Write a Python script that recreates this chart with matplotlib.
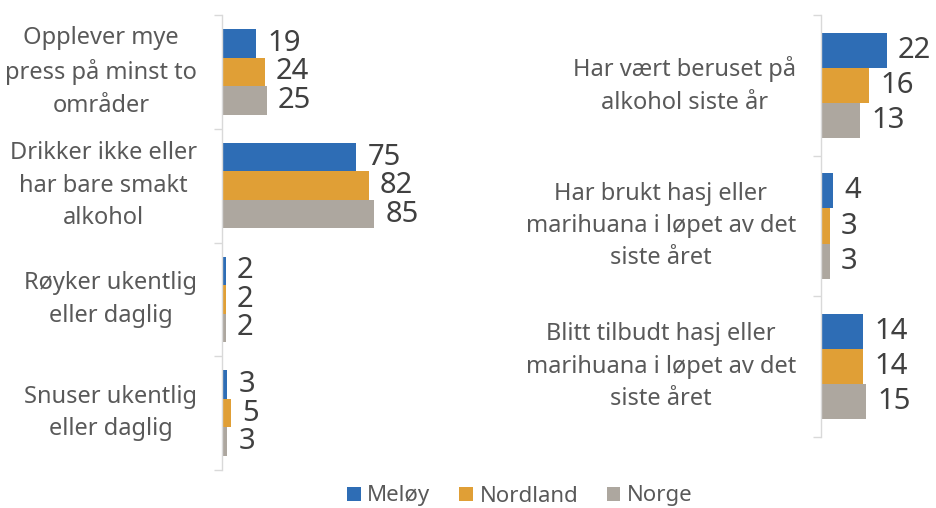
import matplotlib
matplotlib.use("Agg")
import matplotlib.pyplot as plt
from matplotlib.patches import Patch
import numpy as np

plt.rcParams["font.family"] = ["Noto Sans", "DejaVu Sans"]

series = ["Meløy", "Nordland", "Norge"]
colors = ["#2E6DB5", "#E09F36", "#ADA79F"]

left_cats = [
    "Opplever mye\npress på minst to\nområder",
    "Drikker ikke eller\nhar bare smakt\nalkohol",
    "Røyker ukentlig\neller daglig",
    "Snuser ukentlig\neller daglig",
]
left_meloy = [19, 75, 2, 3]
left_nordland = [24, 82, 2, 5]
left_norge = [25, 85, 2, 3]

right_cats = [
    "Har vært beruset på\nalkohol siste år",
    "Har brukt hasj eller\nmarihuana i løpet av det\nsiste året",
    "Blitt tilbudt hasj eller\nmarihuana i løpet av det\nsiste året",
]
right_meloy = [22, 4, 14]
right_nordland = [16, 3, 14]
right_norge = [13, 3, 15]

W, H = 936, 508
fig = plt.figure(figsize=(W / 100, H / 100), dpi=100)


def px_axes(x0, y_top, w, y_bot):
    return fig.add_axes([x0 / W, 1 - y_bot / H, w / W, (y_bot - y_top) / H])


def draw_panel(ax, cats, vals, xmax):
    n = len(cats)
    y = np.arange(n)
    bh = 0.25
    for k, (v, c) in enumerate(zip(vals, colors)):
        bars = ax.barh(y + (k - 1) * bh, v, height=bh, color=c, edgecolor="none")
        for b, val in zip(bars, v):
            ax.annotate(str(val), (b.get_width(), b.get_y() + b.get_height() / 2),
                        xytext=(8, 0), textcoords="offset points",
                        ha="left", va="center", fontsize=21, color="#404040")
    ax.set_xlim(0, xmax)
    ax.set_ylim(n - 0.5, -0.5)
    ax.set_yticks(np.arange(n + 1) - 0.5)
    ax.set_yticklabels([])
    ax.set_xticks([])
    ax.tick_params(axis="y", length=6, width=1, color="#D9D9D9")
    for s in ["top", "right", "bottom"]:
        ax.spines[s].set_visible(False)
    ax.spines["left"].set_color("#D9D9D9")
    ax.spines["left"].set_linewidth(1)
    tr = ax.get_yaxis_transform()
    for i, lab in enumerate(cats):
        ax.annotate(lab, (0, i), xycoords=tr, xytext=(-18, 0), textcoords="offset points",
                    ha="right", va="center", multialignment="center",
                    fontsize=17, color="#595959", linespacing=1.47)


ax1 = px_axes(222, 15, 179, 470)
draw_panel(ax1, left_cats, [left_meloy, left_nordland, left_norge], 100)

ax2 = px_axes(821, 15, 100, 437)
draw_panel(ax2, right_cats, [right_meloy, right_nordland, right_norge], 100 / 3.0)

handles = [Patch(facecolor=c, edgecolor="none") for c in colors]
fig.legend(handles, series, loc="center", bbox_to_anchor=(520 / W, 1 - 496 / H),
           ncol=3, frameon=False, fontsize=16, handlelength=0.6, handleheight=0.6,
           handletextpad=0.3, columnspacing=1.3, labelcolor="#595959")

fig.savefig("out.png", dpi=100)
